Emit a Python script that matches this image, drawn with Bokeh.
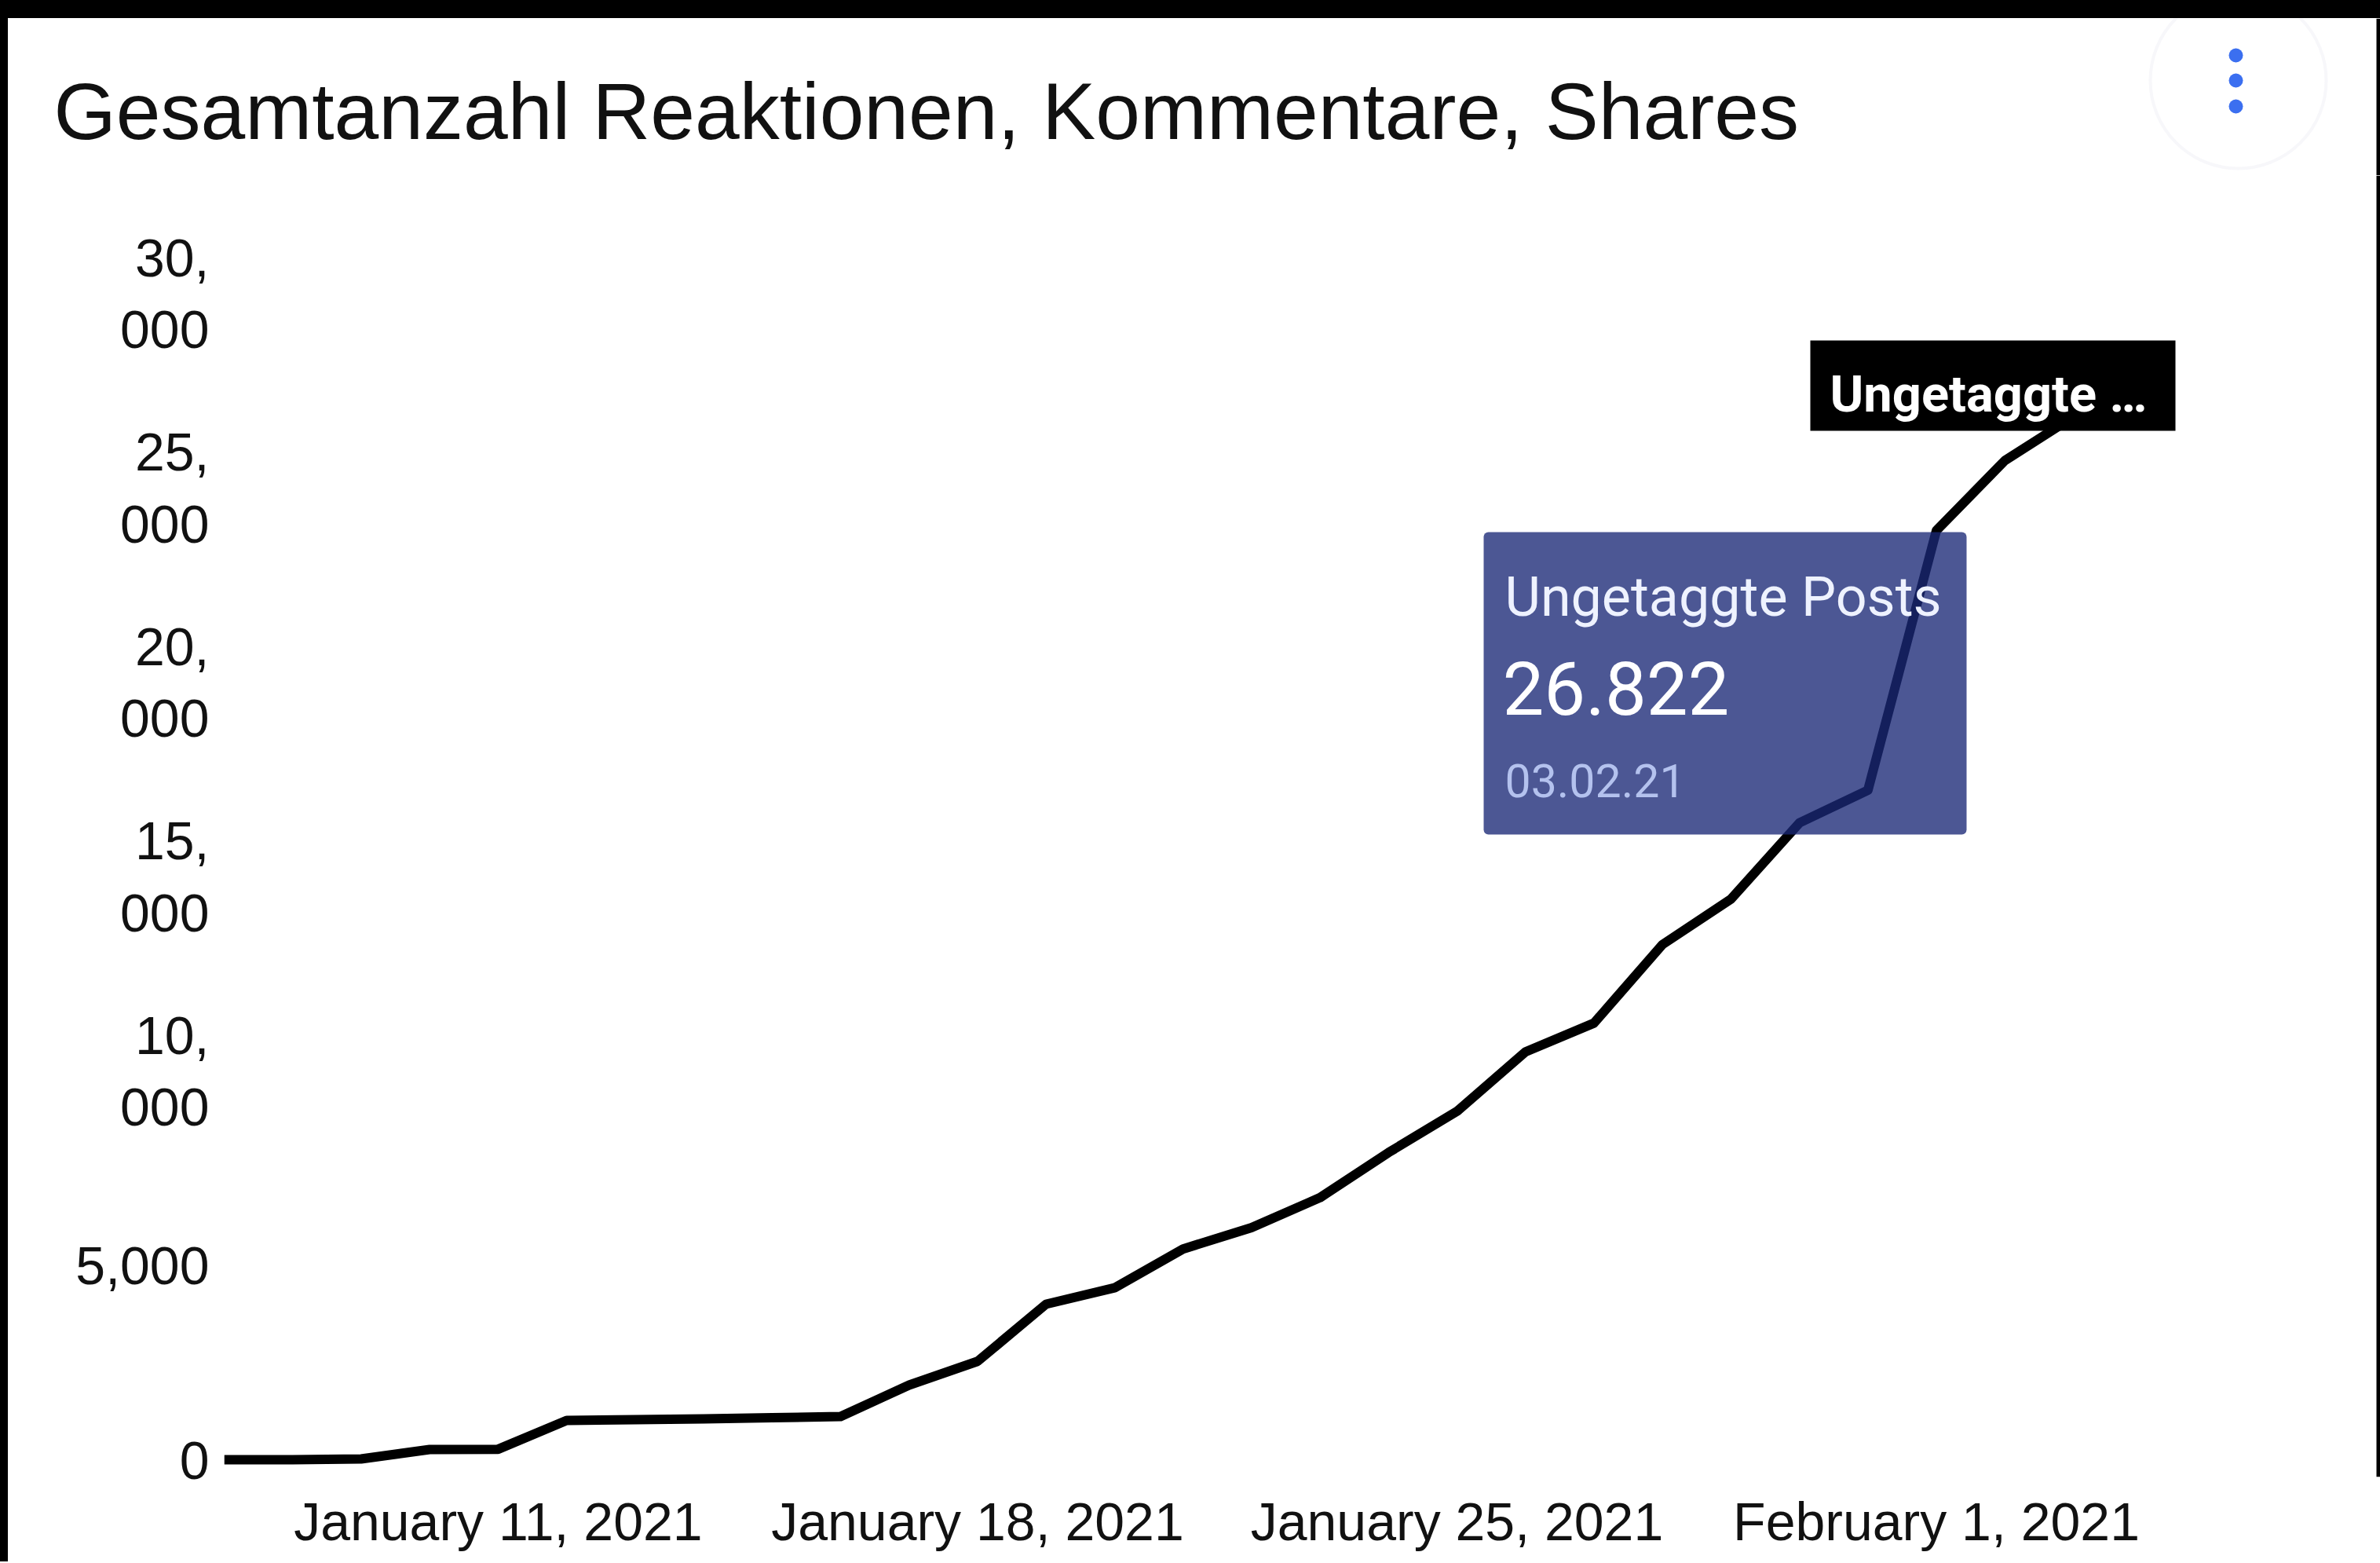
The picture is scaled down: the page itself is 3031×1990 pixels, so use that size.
import pandas as pd
from bokeh.plotting import figure
from bokeh.models import (Range1d, FixedTicker, BoxAnnotation, Label, ColumnDataSource, Div)
from bokeh.layouts import column, row
from bokeh.embed import file_html
from bokeh.resources import INLINE

# ---------------- data ----------------
title_text = "Gesamtanzahl Reaktionen, Kommentare, Shares"
series_name = "Ungetaggte Posts"
dates = ["2021-01-07", "2021-01-08", "2021-01-09", "2021-01-10", "2021-01-11",
         "2021-01-12", "2021-01-13", "2021-01-14", "2021-01-15", "2021-01-16",
         "2021-01-17", "2021-01-18", "2021-01-19", "2021-01-20", "2021-01-21",
         "2021-01-22", "2021-01-23", "2021-01-24", "2021-01-25", "2021-01-26",
         "2021-01-27", "2021-01-28", "2021-01-29", "2021-01-30", "2021-01-31",
         "2021-02-01", "2021-02-02", "2021-02-03"]
values = [0, 0, 20, 263, 270,
          1010, 1030, 1050, 1080, 1110,
          1920, 2530, 4000, 4420, 5420,
          5970, 6740, 7900, 8960, 10490,
          11230, 13250, 14420, 16380, 17220,
          23900, 25700, 26822]
x_tick_dates = ["2021-01-11", "2021-01-18", "2021-01-25", "2021-02-01"]
x_tick_labels = ["January 11, 2021", "January 18, 2021", "January 25, 2021", "February 1, 2021"]
y_ticks = [0, 5000, 10000, 15000, 20000, 25000, 30000]
y_tick_labels = ["0", "5,000", "10,\n000", "15,\n000", "20,\n000", "25,\n000", "30,\n000"]
tooltip_value = "26.822"
tooltip_date = "03.02.21"
legend_text = "Ungetaggte \u2026"

# ---------------- geometry (page pixels) ----------------
PAGE_W, PAGE_H = 3031, 1988
PAD_TOP, PAD_LEFT, PAD_RIGHT = 23, 10, 5
FIG_W = PAGE_W - PAD_LEFT
HEADER_H = 200
MAIN_TOP_PAGE = PAD_TOP + HEADER_H
MAIN_H = PAGE_H - MAIN_TOP_PAGE
FRAME_LEFT_PAGE = 285
FRAME_BOTTOM_PAGE = 1880
Y0_PAGE = 1858            # page y of value 0
PX_PER_UNIT = (1858 - 373) / 30000.0
X_START_PAGE, X_END_PAGE = 285, 2640
MS_DAY = 86400000.0

xs = pd.to_datetime(dates)
x0_ms = xs[0].value / 1e6
px_per_day = (X_END_PAGE - X_START_PAGE) / (len(dates) - 1)


def X(px):
    return x0_ms + (px - X_START_PAGE) / px_per_day * MS_DAY


def Y(py):
    return (Y0_PAGE - py) / PX_PER_UNIT


# ---------------- header (title + menu button) ----------------
h = figure(width=FIG_W, height=HEADER_H, x_range=Range1d(0, FIG_W), y_range=Range1d(0, HEADER_H),
           output_backend="svg", toolbar_location=None,
           x_axis_location=None, y_axis_location=None,
           min_border_left=0, min_border_right=0, min_border_top=0, min_border_bottom=0)
h.frame_align = False
h.background_fill_color = "white"
h.border_fill_color = "white"
h.outline_line_color = None
h.grid.visible = False


def HX(px):
    return px - PAD_LEFT


def HY(py):
    return MAIN_TOP_PAGE - py


h.add_layout(Label(x=HX(68), y=HY(141), text=title_text, text_font="Liberation Sans",
                   text_font_size="102px", text_color="#111111", text_baseline="alphabetic"))
h.add_layout(BoxAnnotation(left=HX(2738), right=HX(2962), top=HY(-10), bottom=HY(214),
                           fill_color="white", fill_alpha=1.0, line_color="#e6e6ef",
                           line_width=4, border_radius=112))
for cy in (70, 102, 135):
    h.add_layout(BoxAnnotation(left=HX(2838), right=HX(2856), top=HY(cy - 9), bottom=HY(cy + 9),
                               fill_color="#3b6ff0", fill_alpha=1.0, line_color=None,
                               border_radius=9))
# right black edge of the screenshot
h.add_layout(BoxAnnotation(left=HX(PAGE_W - PAD_RIGHT), right=HX(PAGE_W + 5),
                           fill_color="black", fill_alpha=1.0, line_color=None))

# ---------------- main chart ----------------
frame_h = FRAME_BOTTOM_PAGE - MAIN_TOP_PAGE
x_range = Range1d(X(FRAME_LEFT_PAGE), X(PAGE_W))
y_range = Range1d(Y(FRAME_BOTTOM_PAGE), Y(MAIN_TOP_PAGE))

p = figure(width=FIG_W, height=MAIN_H, x_axis_type="datetime",
           x_range=x_range, y_range=y_range,
           output_backend="svg", toolbar_location=None,
           min_border_left=FRAME_LEFT_PAGE - PAD_LEFT, min_border_right=0,
           min_border_top=0, min_border_bottom=MAIN_H - frame_h)
p.frame_align = False
p.background_fill_color = "white"
p.border_fill_color = "white"
p.outline_line_color = None
p.grid.visible = False

src = ColumnDataSource(dict(x=xs, y=values))
p.line("x", "y", source=src, line_color="black", line_width=12, line_join="round")

tick_ms = [pd.Timestamp(d).value / 1e6 for d in x_tick_dates]
p.xaxis.ticker = FixedTicker(ticks=tick_ms)
p.xaxis.major_label_overrides = {t: l for t, l in zip(tick_ms, x_tick_labels)}
p.yaxis.ticker = FixedTicker(ticks=y_ticks)
p.yaxis.major_label_overrides = {t: l for t, l in zip(y_ticks, y_tick_labels)}
for ax in (p.xaxis[0], p.yaxis[0]):
    ax.axis_line_color = None
    ax.major_tick_line_color = None
    ax.minor_tick_line_color = None
    ax.major_tick_out = 0
    ax.major_tick_in = 0
    ax.major_label_text_font = "Liberation Sans"
    ax.major_label_text_font_size = "68px"
    ax.major_label_text_color = "#111111"
p.xaxis.major_label_standoff = 18
p.yaxis.major_label_standoff = 19
p.yaxis.major_label_text_line_height = 1.2

# tooltip box
p.add_layout(BoxAnnotation(left=X(1889), right=X(2504), top=Y(677), bottom=Y(1062),
                           fill_color="#1a2876", fill_alpha=0.78, line_color=None,
                           border_radius=6))
p.add_layout(Label(x=X(1916), y=Y(759), text=series_name, text_font="Roboto",
                   text_font_size="70px", text_color="#eef2ff", text_baseline="alphabetic"))
p.add_layout(Label(x=X(1913), y=Y(875), text=tooltip_value, text_font="Roboto",
                   text_font_size="94px", text_color="#ffffff", text_baseline="alphabetic"))
p.add_layout(Label(x=X(1916), y=Y(993), text=tooltip_date, text_font="Roboto",
                   text_font_size="59px", text_color="#b4c2ee", text_baseline="alphabetic"))

# black series label
p.add_layout(BoxAnnotation(left=X(2305), right=X(2770), top=Y(433), bottom=Y(548),
                           fill_color="black", fill_alpha=1.0, line_color=None))
p.add_layout(Label(x=X(2330), y=Y(501), text=legend_text, text_font="Roboto",
                   text_font_style="bold", text_font_size="65px", text_color="white",
                   text_baseline="alphabetic"))

# right black edge of the screenshot
p.add_layout(BoxAnnotation(left=X(PAGE_W - PAD_RIGHT), right=X(PAGE_W + 5),
                           fill_color="black", fill_alpha=1.0, line_color=None))

black = {"background-color": "black"}
top_bar = Div(text="", width=PAGE_W, height=PAD_TOP, styles=black, margin=0)
left_bar = Div(text="", width=PAD_LEFT, height=PAGE_H - PAD_TOP, styles=black, margin=0)
layout = column(top_bar, row(left_bar, column(h, p)))

open("out.html", "w").write(file_html(layout, INLINE))
